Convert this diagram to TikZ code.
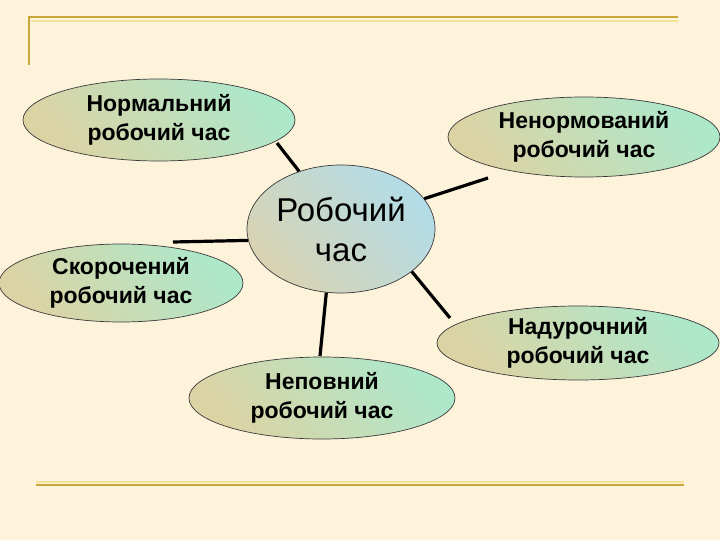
\documentclass[tikz,border=0pt]{standalone}
\usepackage{fontspec}
\setmainfont{Liberation Sans}
\usetikzlibrary{shapes.geometric}
\definecolor{bg}{HTML}{FDF2DA}
\definecolor{gold}{HTML}{C9A53A}
\definecolor{goldlight}{HTML}{F3E29A}
\definecolor{mint}{HTML}{ADE8CB}
\definecolor{khaki}{HTML}{DCD3A4}
\definecolor{skyb}{HTML}{B2DCE8}
\definecolor{khakib}{HTML}{D8D3B2}
\definecolor{rim}{HTML}{3A3A3A}
\tikzset{
  oval/.style={ellipse, draw=rim, line width=0.7pt, inner sep=0pt,
    top color=mint, bottom color=khaki, shading angle=-50,
    align=center, font=\bfseries\fontsize{23}{29}\selectfont},
  hub/.style={ellipse, draw=rim, line width=0.7pt, inner sep=0pt,
    top color=skyb, bottom color=khakib, shading angle=-50,
    align=center, font=\fontsize{33}{40}\selectfont},
  link/.style={line width=3.2pt, black},
  rule/.style={gold, line width=2.6pt}
}
\begin{document}
\begin{tikzpicture}[x=1pt,y=-1pt]
\fill[bg] (0,0) rectangle (720,540);
\useasboundingbox (0,0) rectangle (720,540);
% gold rules
\draw[rule] (29,65) -- (29,17) -- (678,17);
\draw[goldlight, line width=1.2pt] (31,21) -- (678,21);
\draw[rule] (36,485) -- (684,485);
\draw[goldlight, line width=1.2pt] (36,482) -- (684,482);
% nodes
\node[hub, minimum width=188pt, minimum height=128pt] (ctr) at (341,229) {Робочий\\час};
\node[oval, minimum width=272pt, minimum height=82pt] (norm) at (159,120) {Нормальний\\робочий час};
\node[oval, minimum width=272pt, minimum height=80pt] (nenorm) at (584,137) {Ненормований\\робочий час};
\node[oval, minimum width=244pt, minimum height=78pt] (skor) at (121,283) {Скорочений\\робочий час};
\node[oval, minimum width=282pt, minimum height=74pt] (nadur) at (578,343) {Надурочний\\робочий час};
\node[oval, minimum width=266pt, minimum height=82pt] (nepov) at (322,398) {Неповний\\робочий час};
% free ends
\coordinate (cnorm) at (277,143);
\coordinate (cnenorm) at (488,178);
\coordinate (cskor) at (173,242);
\coordinate (cnadur) at (450,318);
\coordinate (cnepov) at (320,356);
% connectors
\draw[link] (cnorm) -- (ctr.126.5);
\draw[link] (cnenorm) -- (ctr.20.9);
\draw[link] (cskor) -- (ctr.187.9);
\draw[link] (cnadur) -- (ctr.-31.2);
\draw[link] (cnepov) -- (ctr.-103.4);
\end{tikzpicture}
\end{document}
